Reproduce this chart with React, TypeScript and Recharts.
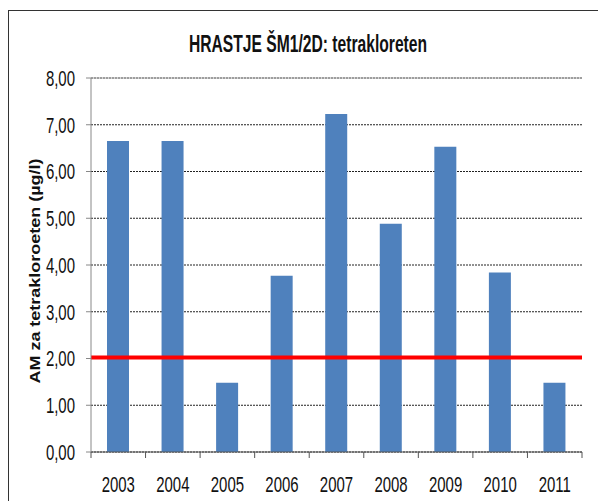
import React from 'react';
import {
  BarChart,
  Bar,
  XAxis,
  YAxis,
  CartesianGrid,
  ReferenceLine
} from 'recharts';

const years = ['2003', '2004', '2005', '2006', '2007', '2008', '2009', '2010', '2011'];
const values = [6.65, 6.65, 1.48, 3.77, 7.23, 4.88, 6.53, 3.84, 1.48];
const yTicks = [0, 1, 2, 3, 4, 5, 6, 7, 8];
const limitValue = 2.02;

const title = 'HRASTJE ŠM1/2D: tetrakloreten';
const yLabel = 'AM za tetrakloroeten (µg/l)';

const data = years.map((year, i) => ({ year, value: values[i] }));

const FONT = '"Liberation Sans", Arial, sans-serif';
// the source picture is squeezed horizontally, so text is narrowed to match
const SQUEEZE = 0.68;

const fmt = (v: number) => v.toFixed(2).replace('.', ',');

const XTick = (props: any) => {
  const { x, y, payload, index } = props;
  const half = payload && payload.offset ? payload.offset : 27.2;
  const last = index === years.length - 1;
  return (
    <g>
      <line x1={x - half} x2={x - half} y1={y} y2={y + 6} stroke="#555" />
      {last && <line x1={x + half} x2={x + half} y1={y} y2={y + 6} stroke="#555" />}
      <g transform={`translate(${x},${y + 40}) scale(${SQUEEZE},1)`}>
        <text textAnchor="middle" fontSize={22} fontFamily={FONT} fill="#111">
          {payload.value}
        </text>
      </g>
    </g>
  );
};

const YTick = (props: any) => {
  const { x, y, payload } = props;
  return (
    <g transform={`translate(${x},${y}) scale(${SQUEEZE},1)`}>
      <text textAnchor="end" dy="0.36em" fontSize={22} fontFamily={FONT} fill="#111">
        {fmt(payload.value)}
      </text>
    </g>
  );
};

const YLabel = (props: any) => {
  const vb = props.viewBox || { x: 22, y: 67, width: 60, height: 374 };
  const cx = vb.x + 4;
  const cy = vb.y + vb.height / 2 + 6;
  return (
    <text
      transform={`translate(${cx},${cy}) scale(0.8,1) rotate(-90)`}
      textAnchor="middle"
      dominantBaseline="central"
      fontSize={18}
      fontWeight="bold"
      fontFamily={FONT}
      fill="#111"
    >
      {yLabel}
    </text>
  );
};

export default function App() {
  return (
    <div
      style={{
        marginTop: 2,
        width: 610,
        height: 500,
        borderTop: '1px solid #333',
        borderLeft: '1px solid #333',
        position: 'relative',
        background: '#fff'
      }}
    >
      <style>{'html,body{overflow:hidden}'}</style>
      <div
        style={{
          position: 'absolute',
          top: 21.5,
          left: 0,
          width: 598,
          textAlign: 'center',
          fontFamily: FONT,
          fontWeight: 'bold',
          fontSize: 23,
          lineHeight: '23px',
          color: '#111',
          transform: `scaleX(${SQUEEZE})`,
          whiteSpace: 'nowrap'
        }}
      >
        {title}
      </div>
      <BarChart
        width={598}
        height={489}
        data={data}
        margin={{ top: 67, right: 25, left: 22, bottom: 18 }}
      >
        <CartesianGrid vertical={false} stroke="#222" strokeDasharray="2 1" />
        <XAxis
          dataKey="year"
          height={30}
          tickLine={false}
          tickSize={0}
          tickMargin={0}
          axisLine={{ stroke: '#555' }}
          tick={<XTick />}
          interval={0}
        />
        <YAxis
          width={60}
          domain={[0, 8]}
          ticks={yTicks}
          interval={0}
          tickSize={5}
          tickMargin={11}
          axisLine={{ stroke: '#888' }}
          tickLine={{ stroke: '#888' }}
          tick={<YTick />}
          label={{ content: <YLabel /> }}
        />
        <YAxis
          yAxisId="right"
          orientation="right"
          width={0}
          domain={[0, 8]}
          tick={false}
          tickLine={false}
          axisLine={{ stroke: '#aaa' }}
        />
        <ReferenceLine y={8} stroke="#aaa" />
        <Bar dataKey="value" fill="#4F81BD" barSize={22} isAnimationActive={false} />
        <ReferenceLine y={limitValue} stroke="#FF0000" strokeWidth={4} />
      </BarChart>
    </div>
  );
}
